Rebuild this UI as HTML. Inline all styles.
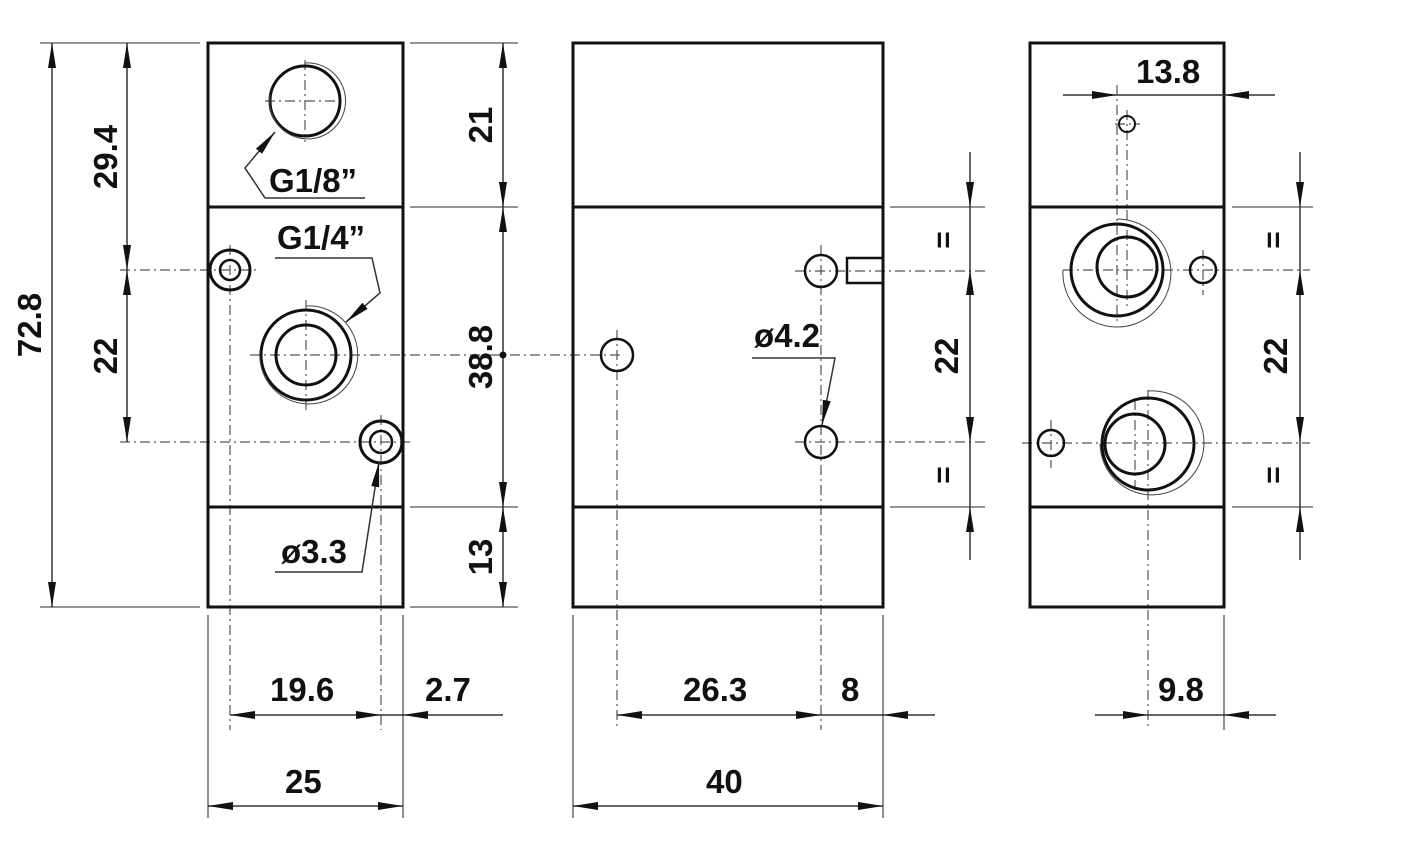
<!DOCTYPE html>
<html><head><meta charset="utf-8"><style>
html,body{margin:0;padding:0;background:#fff;}
svg{display:block;}
text{font-family:"Liberation Sans",Arial,sans-serif;font-weight:bold;font-size:33px;fill:#111;}
</style></head><body>
<svg width="1428" height="866" viewBox="0 0 1428 866" xmlns="http://www.w3.org/2000/svg">
<defs>
<marker id="a" viewBox="0 0 25 8" refX="25" refY="4" markerWidth="25" markerHeight="8" markerUnits="userSpaceOnUse" orient="auto-start-reverse"><path d="M0,0 L25,4 L0,8 z" fill="#111"/></marker>
</defs>
<g stroke="#555" stroke-width="1.2" stroke-dasharray="10,4,2,4" fill="none">
<line x1="265" y1="101" x2="345" y2="101"/><line x1="305" y1="60" x2="305" y2="142"/>
<line x1="120" y1="270" x2="258" y2="270"/><line x1="230" y1="245" x2="230" y2="730"/>
<line x1="250" y1="355" x2="620" y2="355"/><line x1="306" y1="300" x2="306" y2="410"/>
<line x1="120" y1="442" x2="412" y2="442"/><line x1="381" y1="415" x2="381" y2="730"/>
<line x1="617" y1="330" x2="617" y2="730"/>
<line x1="795" y1="271" x2="985" y2="271"/><line x1="821" y1="245" x2="821" y2="730"/>
<line x1="795" y1="442" x2="985" y2="442"/>
<line x1="1115" y1="124" x2="1140" y2="124"/><line x1="1117" y1="85" x2="1117" y2="325"/><line x1="1127" y1="110" x2="1127" y2="310"/>
<line x1="1063" y1="270" x2="1310" y2="270"/><line x1="1203" y1="250" x2="1203" y2="295"/>
<line x1="1022" y1="443" x2="1310" y2="443"/><line x1="1051" y1="420" x2="1051" y2="468"/>
<line x1="1135" y1="400" x2="1135" y2="490"/><line x1="1148" y1="390" x2="1148" y2="730"/>
</g>
<g stroke="#111" stroke-width="3" fill="none">
<rect x="208" y="43" width="195" height="564"/>
<line x1="208" y1="207" x2="403" y2="207"/><line x1="208" y1="507" x2="403" y2="507"/>
<rect x="573" y="43" width="310" height="564"/>
<line x1="573" y1="207" x2="883" y2="207"/><line x1="573" y1="507" x2="883" y2="507"/>
<rect x="1030" y="43" width="194" height="564"/>
<line x1="1030" y1="207" x2="1224" y2="207"/><line x1="1030" y1="507" x2="1224" y2="507"/>
<circle cx="305" cy="101" r="35"/>
<circle cx="230" cy="270" r="20"/><circle cx="230" cy="270" r="10" stroke-width="2.5"/>
<circle cx="306" cy="355" r="45"/><circle cx="306" cy="355" r="30"/>
<circle cx="381" cy="442" r="21"/><circle cx="381" cy="442" r="11" stroke-width="2.5"/>
<circle cx="617" cy="355" r="16" stroke-width="2.5"/>
<circle cx="821" cy="271" r="16" stroke-width="2.5"/>
<rect x="847" y="258" width="36" height="25" stroke-width="2.5"/>
<circle cx="821" cy="442" r="16" stroke-width="2.5"/>
<circle cx="1127" cy="124" r="8" stroke-width="2"/>
<circle cx="1117" cy="270" r="46"/><circle cx="1127" cy="267" r="30"/>
<circle cx="1203" cy="270" r="13" stroke-width="2.5"/>
<circle cx="1051" cy="443" r="13" stroke-width="2.5"/>
<circle cx="1148" cy="444" r="46"/><circle cx="1135" cy="444" r="30"/>
</g>
<g stroke="#444" stroke-width="1" fill="none">
<path d="M270,95 A38,38 0 1 0 305,63"/>
<path d="M260,350 A49,49 0 1 0 306,306"/>
<path d="M1063,270 A54,54 0 1 0 1117,219"/>
<path d="M1100,444 A52,52 0 1 0 1148,391"/>
</g>
<g stroke="#555" stroke-width="1.3" fill="none">
<line x1="40" y1="43" x2="200" y2="43"/><line x1="40" y1="607" x2="200" y2="607"/>
<line x1="410" y1="43" x2="518" y2="43"/><line x1="410" y1="207" x2="518" y2="207"/>
<line x1="410" y1="507" x2="518" y2="507"/><line x1="410" y1="607" x2="518" y2="607"/>
<line x1="208" y1="615" x2="208" y2="818"/><line x1="403" y1="615" x2="403" y2="818"/>
<line x1="573" y1="615" x2="573" y2="818"/><line x1="883" y1="615" x2="883" y2="818"/>
<line x1="1224" y1="615" x2="1224" y2="730"/>
<line x1="890" y1="207" x2="985" y2="207"/><line x1="890" y1="507" x2="985" y2="507"/>
<line x1="1232" y1="207" x2="1313" y2="207"/><line x1="1232" y1="507" x2="1313" y2="507"/>
</g>
<g stroke="#333" stroke-width="1.5" fill="none">
<line x1="52" y1="43" x2="52" y2="607" marker-start="url(#a)" marker-end="url(#a)"/>
<line x1="127" y1="43" x2="127" y2="270" marker-start="url(#a)" marker-end="url(#a)"/>
<line x1="127" y1="270" x2="127" y2="442" marker-start="url(#a)" marker-end="url(#a)"/>
<line x1="503" y1="43" x2="503" y2="207" marker-start="url(#a)" marker-end="url(#a)"/>
<line x1="503" y1="207" x2="503" y2="507" marker-start="url(#a)" marker-end="url(#a)"/>
<line x1="503" y1="507" x2="503" y2="607" marker-start="url(#a)" marker-end="url(#a)"/>
<line x1="230" y1="715" x2="381" y2="715" marker-start="url(#a)" marker-end="url(#a)"/>
<line x1="503" y1="715" x2="403" y2="715" marker-end="url(#a)"/>
<line x1="381" y1="715" x2="403" y2="715"/>
<line x1="208" y1="806" x2="403" y2="806" marker-start="url(#a)" marker-end="url(#a)"/>
<line x1="617" y1="715" x2="821" y2="715" marker-start="url(#a)" marker-end="url(#a)"/>
<line x1="821" y1="715" x2="883" y2="715"/>
<line x1="935" y1="715" x2="883" y2="715" marker-end="url(#a)"/>
<line x1="573" y1="806" x2="883" y2="806" marker-start="url(#a)" marker-end="url(#a)"/>
<line x1="970" y1="152" x2="970" y2="207" marker-end="url(#a)"/>
<line x1="970" y1="207" x2="970" y2="270"/>
<line x1="970" y1="270" x2="970" y2="442" marker-start="url(#a)" marker-end="url(#a)"/>
<line x1="970" y1="442" x2="970" y2="507"/>
<line x1="970" y1="560" x2="970" y2="507" marker-end="url(#a)"/>
<line x1="1300" y1="152" x2="1300" y2="207" marker-end="url(#a)"/>
<line x1="1300" y1="207" x2="1300" y2="270"/>
<line x1="1300" y1="270" x2="1300" y2="442" marker-start="url(#a)" marker-end="url(#a)"/>
<line x1="1300" y1="442" x2="1300" y2="507"/>
<line x1="1300" y1="560" x2="1300" y2="507" marker-end="url(#a)"/>
<line x1="1063" y1="95" x2="1117" y2="95" marker-end="url(#a)"/>
<line x1="1117" y1="95" x2="1224" y2="95"/>
<line x1="1275" y1="95" x2="1224" y2="95" marker-end="url(#a)"/>
<line x1="1095" y1="715" x2="1148" y2="715" marker-end="url(#a)"/>
<line x1="1148" y1="715" x2="1224" y2="715"/>
<line x1="1276" y1="715" x2="1224" y2="715" marker-end="url(#a)"/>
<polyline points="365,198 265,198 245,168 275,132" marker-end="url(#a)"/>
<polyline points="275,258 372,258 380,293 346,322" marker-end="url(#a)"/>
<polyline points="275,572 362,572 379,462" marker-end="url(#a)"/>
<polyline points="752,358 835,358 822,425" marker-end="url(#a)"/>
</g>
<circle cx="503" cy="355" r="3.5" fill="#111"/>
<text x="269" y="192">G1/8”</text>
<text x="277" y="249">G1/4”</text>
<text x="281" y="563">ø3.3</text>
<text x="754" y="347">ø4.2</text>
<text x="270" y="701">19.6</text>
<text x="425" y="701">2.7</text>
<text x="285" y="793">25</text>
<text x="683" y="701">26.3</text>
<text x="841" y="701">8</text>
<text x="706" y="793">40</text>
<text x="1136" y="83">13.8</text>
<text x="1158" y="701">9.8</text>
<g>
<text transform="translate(41,325) rotate(-90)" text-anchor="middle">72.8</text>
<text transform="translate(117,157) rotate(-90)" text-anchor="middle">29.4</text>
<text transform="translate(117,356) rotate(-90)" text-anchor="middle">22</text>
<text transform="translate(492,125) rotate(-90)" text-anchor="middle">21</text>
<text transform="translate(492,357) rotate(-90)" text-anchor="middle">38.8</text>
<text transform="translate(492,557) rotate(-90)" text-anchor="middle">13</text>
<text transform="translate(958,356) rotate(-90)" text-anchor="middle">22</text>
<text transform="translate(1287,356) rotate(-90)" text-anchor="middle">22</text>
<text transform="translate(953,240) rotate(-90)" text-anchor="middle" style="font-size:30px">=</text>
<text transform="translate(953,475) rotate(-90)" text-anchor="middle" style="font-size:30px">=</text>
<text transform="translate(1283,240) rotate(-90)" text-anchor="middle" style="font-size:30px">=</text>
<text transform="translate(1283,475) rotate(-90)" text-anchor="middle" style="font-size:30px">=</text>
</g>
</svg>
</body></html>
